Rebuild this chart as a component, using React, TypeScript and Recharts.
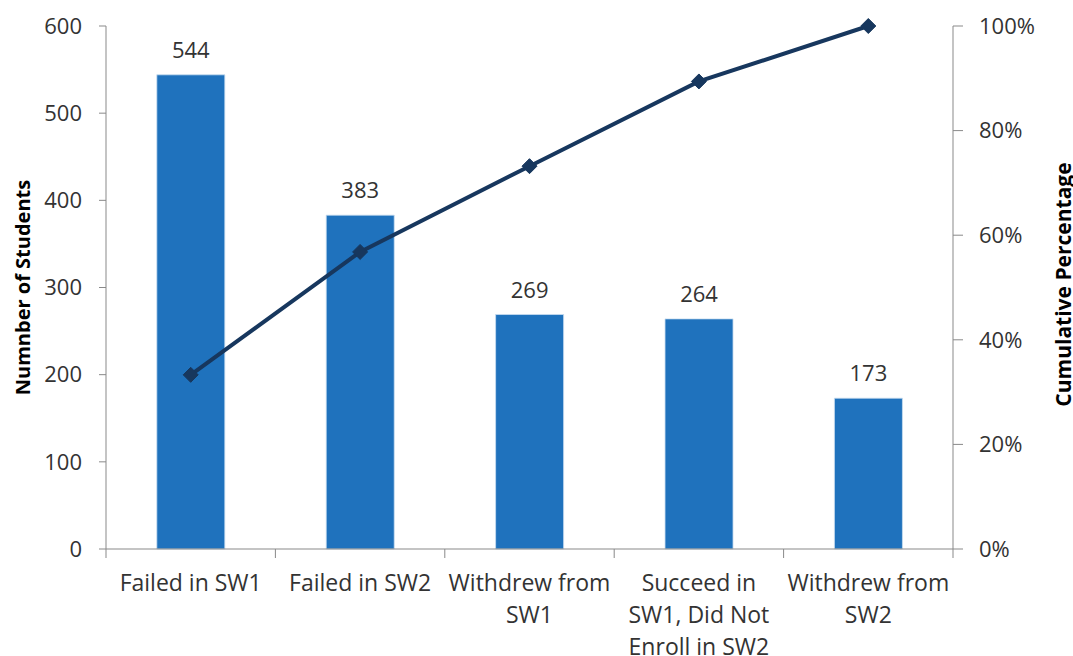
import React from "react";
import * as R from "recharts";
import {
  ComposedChart,
  Bar,
  Line,
  XAxis,
  YAxis,
  LabelList,
} from "recharts";

const categories = [
  "Failed in SW1",
  "Failed in SW2",
  "Withdrew from SW1",
  "Succeed in SW1, Did Not Enroll in SW2",
  "Withdrew from SW2",
];
const categoryLines: string[][] = [
  ["Failed in SW1"],
  ["Failed in SW2"],
  ["Withdrew from", "SW1"],
  ["Succeed in", "SW1, Did Not", "Enroll in SW2"],
  ["Withdrew from", "SW2"],
];
const students = [544, 383, 269, 264, 173];
const cumulativePct = [0.333, 0.568, 0.732, 0.894, 1.0];
const leftTicks = [0, 100, 200, 300, 400, 500, 600];
const rightTicks = [0, 0.2, 0.4, 0.6, 0.8, 1.0];

const data = categories.map((c, i) => ({
  name: c,
  students: students[i],
  cum: cumulativePct[i],
}));

const FONT = "'Open Sans', 'Noto Sans', sans-serif";
const TEXT = "#333333";
const AXIS = "#898989";
const BAR = "#1F72BD";
const LINE = "#17375E";

const usePlot: () => any =
  (R as any).usePlotArea || (R as any).useOffset || (() => null);

const CategoryTick = (props: any) => {
  const { x, y, payload, index, visibleTicksCount } = props;
  const plot = usePlot();
  const n = visibleTicksCount || categories.length;
  const w = (plot && plot.width) || props.width || 0;
  const step = w / n;
  const lines = categoryLines[index] || [String(payload.value)];
  const lx = x - step / 2;
  const rx = x + step / 2;
  return (
    <g>
      <line x1={lx} y1={y} x2={lx} y2={y + 9} stroke={AXIS} strokeWidth={1} />
      {index === n - 1 && (
        <line x1={rx} y1={y} x2={rx} y2={y + 9} stroke={AXIS} strokeWidth={1} />
      )}
      <text
        x={x}
        y={y}
        textAnchor="middle"
        fill={TEXT}
        fontFamily={FONT}
        fontSize={23}
      >
        {lines.map((l, i) => (
          <tspan key={i} x={x} dy={i === 0 ? 42 : 32}>
            {l}
          </tspan>
        ))}
      </text>
    </g>
  );
};

const Diamond = (props: any) => {
  const { cx, cy } = props;
  if (cx == null || cy == null) return null;
  const r = 7.5;
  return (
    <polygon
      points={`${cx},${cy - r} ${cx + r},${cy} ${cx},${cy + r} ${cx - r},${cy}`}
      fill={LINE}
      stroke={LINE}
      strokeWidth={1}
    />
  );
};

const LeftTitle = (props: any) => {
  const vb = props.viewBox || {};
  const cx = (vb.x || 0) + 22;
  const cy = (vb.y || 0) + (vb.height || 0) / 2;
  return (
    <text
      x={cx}
      y={cy}
      transform={`rotate(-90, ${cx}, ${cy})`}
      textAnchor="middle"
      dominantBaseline="central"
      fill="#000"
      fontFamily={FONT}
      fontWeight={700}
      fontSize={20}
    >
      Numnber of Students
    </text>
  );
};

const RightTitle = (props: any) => {
  const vb = props.viewBox || {};
  const cx = (vb.x || 0) + (vb.width || 0) - 10;
  const cy = (vb.y || 0) + (vb.height || 0) / 2 - 3;
  return (
    <text
      x={cx}
      y={cy}
      transform={`rotate(-90, ${cx}, ${cy})`}
      textAnchor="middle"
      dominantBaseline="central"
      fill="#000"
      fontFamily={FONT}
      fontWeight={700}
      fontSize={21}
    >
      Cumulative Percentage
    </text>
  );
};

export default function App() {
  return (
    <div style={{ position: "absolute", left: 0, top: 0, background: "#fff" }}>
      <ComposedChart
        width={1073}
        height={656}
        data={data}
        barCategoryGap="30%"
        margin={{ top: 26, right: 0, bottom: 0, left: 0 }}
      >
        <XAxis
          dataKey="name"
          xAxisId="x"
          height={107}
          interval={0}
          tickLine={false}
          tickSize={0}
          tickMargin={0}
          axisLine={{ stroke: AXIS, strokeWidth: 1 }}
          tick={<CategoryTick />}
        />
        <YAxis
          yAxisId="left"
          orientation="left"
          width={106}
          domain={[0, 600]}
          ticks={leftTicks}
          interval={0}
          tickSize={7}
          tickMargin={17}
          axisLine={{ stroke: AXIS, strokeWidth: 1 }}
          tickLine={{ stroke: AXIS, strokeWidth: 1 }}
          tick={{ fill: TEXT, fontFamily: FONT, fontSize: 22 }}
          label={<LeftTitle />}
        />
        <YAxis
          yAxisId="right"
          orientation="right"
          width={120}
          domain={[0, 1]}
          ticks={rightTicks}
          interval={0}
          tickSize={10}
          tickMargin={16}
          tickFormatter={(v: number) => `${Math.round(v * 100)}%`}
          axisLine={{ stroke: AXIS, strokeWidth: 1 }}
          tickLine={{ stroke: AXIS, strokeWidth: 1 }}
          tick={{ fill: TEXT, fontFamily: FONT, fontSize: 22, textAnchor: "start" }}
          label={<RightTitle />}
        />
        <Bar
          dataKey="students"
          xAxisId="x"
          yAxisId="left"
          fill={BAR}
          stroke="#C9DDF0"
          strokeWidth={0.8}
          isAnimationActive={false}
        >
          <LabelList
            dataKey="students"
            position="top"
            offset={17}
            fill={TEXT}
            fontFamily={FONT}
            fontSize={22}
          />
        </Bar>
        <Line
          dataKey="cum"
          xAxisId="x"
          yAxisId="right"
          type="linear"
          stroke={LINE}
          strokeWidth={4}
          dot={<Diamond />}
          activeDot={false}
          isAnimationActive={false}
        />
      </ComposedChart>
    </div>
  );
}
